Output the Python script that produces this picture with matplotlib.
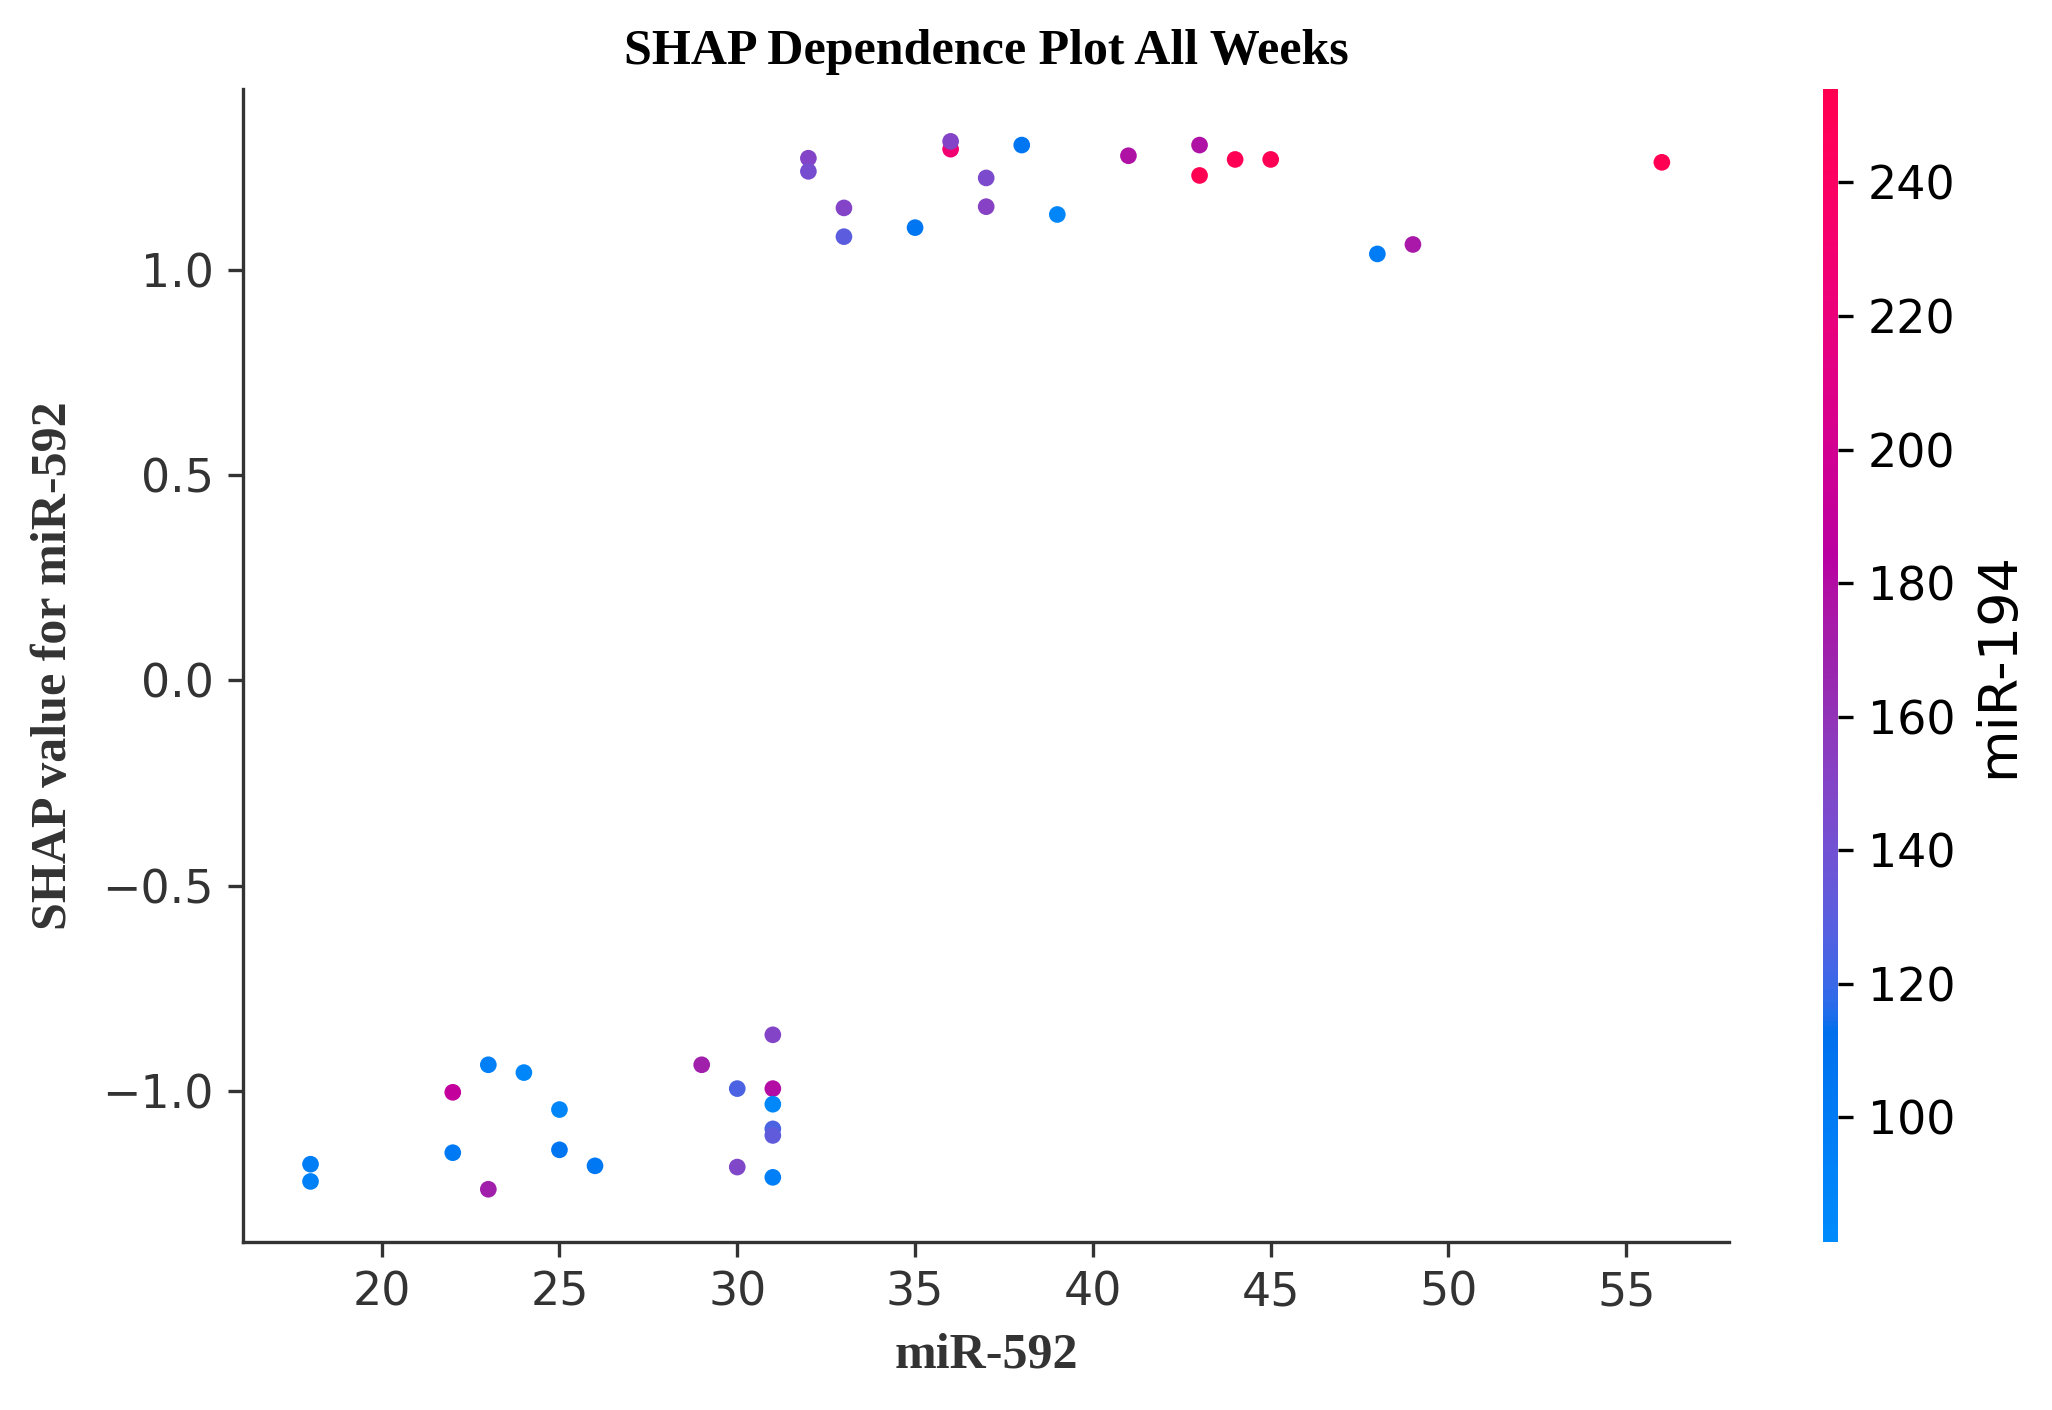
import numpy as np
import matplotlib
matplotlib.use('Agg')
import matplotlib.pyplot as plt
from matplotlib.colors import LinearSegmentedColormap

# Data (feature value, SHAP value, interaction value).
mir592 = [32, 32, 33, 33, 35, 36, 36, 37, 37, 38, 39, 41, 43, 43, 44, 45, 48, 49, 56,
          18, 18, 22, 22, 23, 23, 24, 25, 25, 26, 29, 30, 30, 31, 31, 31, 31, 31, 31]
shap_vals = [1.271, 1.239, 1.150, 1.080, 1.102, 1.293, 1.312, 1.223, 1.153, 1.303,
             1.134, 1.277, 1.303, 1.229, 1.268, 1.268, 1.038, 1.061, 1.261,
             -1.178, -1.220, -1.003, -1.150, -0.936, -1.239, -0.955, -1.045, -1.143,
             -1.182, -0.936, -0.994, -1.185, -0.863, -0.994, -1.032, -1.092, -1.108,
             -1.210]
mir194 = [150, 143, 150, 130, 105, 228, 150, 145, 152, 105, 88, 178, 178, 252, 250,
          250, 98, 175, 252,
          97, 94, 190, 102, 96, 170, 88, 88, 107, 103, 170, 125, 148, 150, 180, 86,
          125, 132, 96]
cbar_min = 81.4
cbar_max = 254.0
cbar_ticks = [100, 120, 140, 160, 180, 200, 220, 240]

title = 'SHAP Dependence Plot All Weeks'
xlabel = 'miR-592'
ylabel = 'SHAP value for miR-592'
clabel = 'miR-194'


def lch2rgb(l, c, h):
  # LCh -> Lab -> XYZ (D65) -> sRGB
  a = c * np.cos(h)
  b = c * np.sin(h)
  fy = (l + 16.) / 116.
  fx = fy + a / 500.
  fz = fy - b / 200.
  def finv(t):
    return t ** 3 if t > 6. / 29. else 3 * (6. / 29.) ** 2 * (t - 4. / 29.)
  xyz = np.array([0.95047 * finv(fx), finv(fy), 1.08883 * finv(fz)])
  m = np.array([[3.2406, -1.5372, -0.4986],
                [-0.9689, 1.8758, 0.0415],
                [0.0557, -0.2040, 1.0570]])
  lin = m.dot(xyz)
  rgb = np.where(lin > 0.0031308, 1.055 * np.abs(lin) ** (1 / 2.4) - 0.055, 12.92 * lin)
  return np.clip(rgb, 0, 1)


# shap's red_blue colormap.
nsteps = 100
lVals = list(np.linspace(54., 40., nsteps // 2)) + list(np.linspace(40., 54., nsteps // 2))
cVals = np.linspace(70., 90., nsteps)
hVals = np.linspace(4.6588, 0.35470565 + 2 * np.pi, nsteps)
clrs = [lch2rgb(l, c, h) for l, c, h in zip(lVals, cVals, hVals)]
clrs[0] = np.array([0.0, 0.5450980392156862, 0.9843137254901961])
clrs[-1] = np.array([1.0, 0.0, 0.3176470588235294])
redBlue = LinearSegmentedColormap.from_list('red_blue', clrs)

serif = 'Liberation Serif'
axisClr = '#333333'

fig = plt.figure(figsize=(6.84, 4.70), dpi=300)
ax = fig.add_axes([0.1184, 0.1194, 0.7244, 0.8175])
cax = fig.add_axes([0.8884, 0.1194, 0.0075, 0.8175])

sc = ax.scatter(mir592, shap_vals, c=mir194, cmap=redBlue, vmin=cbar_min, vmax=cbar_max,
                s=16, linewidth=0, alpha=1, rasterized=True)

# Axes styling like shap.
ax.spines['top'].set_visible(False)
ax.spines['right'].set_visible(False)
ax.spines['left'].set_color(axisClr)
ax.spines['bottom'].set_color(axisClr)
ax.tick_params(labelsize=11, color=axisClr, labelcolor=axisClr)
ax.set_yticks([-1.0, -0.5, 0.0, 0.5, 1.0])
ax.set_xticks([20, 25, 30, 35, 40, 45, 50, 55])

ax.set_title(title, fontfamily=serif, fontweight='bold', fontsize=12, color='black')
ax.set_xlabel(xlabel, fontfamily=serif, fontweight='bold', fontsize=12, color=axisClr)
ax.set_ylabel(ylabel, fontfamily=serif, fontweight='bold', fontsize=12, color=axisClr,
              labelpad=6)

# Colour bar.
cb = fig.colorbar(sc, cax=cax, ticks=cbar_ticks)
cb.outline.set_visible(False)
cb.ax.tick_params(labelsize=11)
cb.set_label(clabel, size=13)

fig.savefig('out.png', dpi=300)
